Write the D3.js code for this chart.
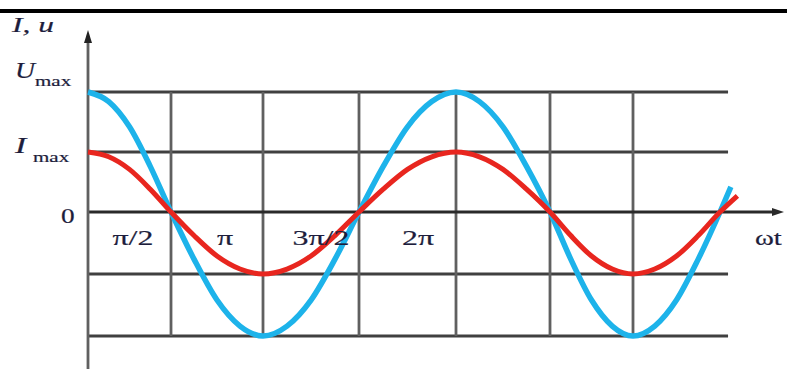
<!DOCTYPE html>
<html>
<head>
<meta charset="utf-8">
<script src="https://cdn.jsdelivr.net/npm/d3@7"></script>
<style>
  html, body { margin: 0; padding: 0; background: #fff; }
  svg { display: block; }
  text { font-family: "Liberation Serif", "DejaVu Serif", serif; fill: #1d1d3c; stroke: #1d1d3c; stroke-width: 0.2; }
</style>
</head>
<body>
<div id="vis-container"></div>
<script>
// phase in steps of pi/8
const phase = [0, 1, 2, 3, 4, 5, 6, 7, 8, 9, 10, 11, 12, 13, 14, 15, 16,
  17, 18, 19, 20, 21, 22, 23, 24, 25, 26, 27, 28];

// voltage (blue), in units of U_max, read at each phase step
const uVals = [1, 0.92, 0.71, 0.38, 0, -0.38, -0.71, -0.92, -1, -0.92, -0.71, -0.38, 0,
  0.38, 0.71, 0.92, 1, 0.92, 0.71, 0.38, 0, -0.38, -0.71, -0.92, -1, -0.92, -0.71, -0.38, 0];
const uEnd = [28.5, 0.21];

// current (red), in units of I_max
const iVals = [1, 0.92, 0.71, 0.38, 0, -0.38, -0.71, -0.92, -1, -0.92, -0.71, -0.38, 0,
  0.38, 0.71, 0.92, 1, 0.92, 0.71, 0.38, 0, -0.38, -0.71, -0.92, -1, -0.92, -0.71, -0.38, 0];
const iEnd = [28.8, 0.27];

// grid levels: U_max spans two grid rows, I_max one
const uMax = 2;
const iMax = 1;
const gridLevels = [-2, -1, 0, 1, 2];
const gridPhases = [4, 8, 12, 16, 20, 24];
const xTicks = [4, 8, 12, 16];
const xTickLabels = ["π/2", "π", "3π/2", "2π"];

const width = 787;
const height = 369;

const svg = d3.select('#vis-container')
  .append('svg')
  .attr('width', width)
  .attr('height', height);

// the source picture is slightly stretched, so piecewise scales
const x = d3.scaleLinear()
  .domain([0, 4, 8, 12, 16, 20, 24, 28])
  .range([88, 171, 263, 359, 456, 550, 633, 720]);

const y = d3.scaleLinear()
  .domain([-2, -1, 0, 1, 2])
  .range([336, 274, 212, 152, 92]);

const gridEnd = 28.37;

// text in the source is wide, stretch glyphs horizontally
function stretch(sel, k) {
  sel.each(function() {
    const w = this.getComputedTextLength();
    d3.select(this)
      .attr('textLength', w * k)
      .attr('lengthAdjust', 'spacingAndGlyphs');
  });
}

// top rule
svg.append('rect')
  .attr('x', 0).attr('y', 9)
  .attr('width', width).attr('height', 4)
  .attr('fill', '#000');

const grid = svg.append('g')
  .attr('stroke', '#404040')
  .attr('stroke-width', 2.8);

grid.selectAll('line.h')
  .data(gridLevels.filter(d => d !== 0))
  .enter()
  .append('line')
  .attr('x1', x(0)).attr('x2', x(gridEnd))
  .attr('y1', d => y(d)).attr('y2', d => y(d));

grid.selectAll('line.v')
  .data(gridPhases)
  .enter()
  .append('line')
  .attr('stroke', '#606060')
  .attr('x1', d => x(d)).attr('x2', d => x(d))
  .attr('y1', y(2)).attr('y2', y(-2));

// axes with arrows
const axisColor = '#2a2a2a';
svg.append('line')
  .attr('x1', x(0)).attr('x2', 778)
  .attr('y1', y(0)).attr('y2', y(0))
  .attr('stroke', axisColor).attr('stroke-width', 2.8);
svg.append('path')
  .attr('d', `M784,${y(0)} L772,${y(0) - 4} L772,${y(0) + 4} Z`)
  .attr('fill', axisColor);

svg.append('line')
  .attr('x1', x(0)).attr('x2', x(0))
  .attr('y1', height).attr('y2', 38)
  .attr('stroke', '#606060').attr('stroke-width', 2.8);
svg.append('path')
  .attr('d', `M${x(0)},30 L${x(0) - 4},43 L${x(0) + 4},43 Z`)
  .attr('fill', '#222');

// curves
const line = d3.line()
  .x(d => x(d[0]))
  .y(d => y(d[1]))
  .curve(d3.curveMonotoneX);

const uPts = phase.map((p, i) => [p, uVals[i] * uMax]).concat([[uEnd[0], uEnd[1] * uMax]]);
const iPts = phase.map((p, i) => [p, iVals[i] * iMax]).concat([[iEnd[0], iEnd[1] * iMax]]);

svg.append('path')
  .datum(uPts)
  .attr('d', line)
  .attr('fill', 'none')
  .attr('stroke', '#1db3ea')
  .attr('stroke-width', 5.5);

svg.append('path')
  .datum(iPts)
  .attr('d', line)
  .attr('fill', 'none')
  .attr('stroke', '#e8261f')
  .attr('stroke-width', 5);

// labels
svg.append('text')
  .attr('x', 12).attr('y', 32)
  .attr('font-size', 21)
  .attr('font-style', 'italic')
  .text('I, u')
  .call(stretch, 1.5);

svg.append('text')
  .attr('x', 15).attr('y', y(uMax) - 14)
  .attr('font-size', 24).attr('font-style', 'italic')
  .text('U')
  .call(stretch, 1.15);
svg.append('text')
  .attr('x', 35).attr('y', y(uMax) - 6)
  .attr('font-size', 14)
  .text('max')
  .call(stretch, 1.5);

svg.append('text')
  .attr('x', 15).attr('y', y(iMax) + 1)
  .attr('font-size', 24).attr('font-style', 'italic')
  .text('I')
  .call(stretch, 1.4);
svg.append('text')
  .attr('x', 33).attr('y', y(iMax) + 10)
  .attr('font-size', 14)
  .text('max')
  .call(stretch, 1.5);

svg.append('text')
  .attr('x', 61).attr('y', y(0) + 11)
  .attr('font-size', 21)
  .text('0')
  .call(stretch, 1.3);

svg.selectAll('text.xt')
  .data(xTicks)
  .enter()
  .append('text')
  .attr('x', d => x(d) - 38)
  .attr('y', y(0) + 33)
  .attr('text-anchor', 'middle')
  .attr('font-size', 22)
  .text((d, i) => xTickLabels[i])
  .call(stretch, 1.45);

svg.append('text')
  .attr('x', 755).attr('y', y(0) + 33)
  .attr('font-size', 22)
  .text('ωt')
  .call(stretch, 1.3);
</script>
</body>
</html>
